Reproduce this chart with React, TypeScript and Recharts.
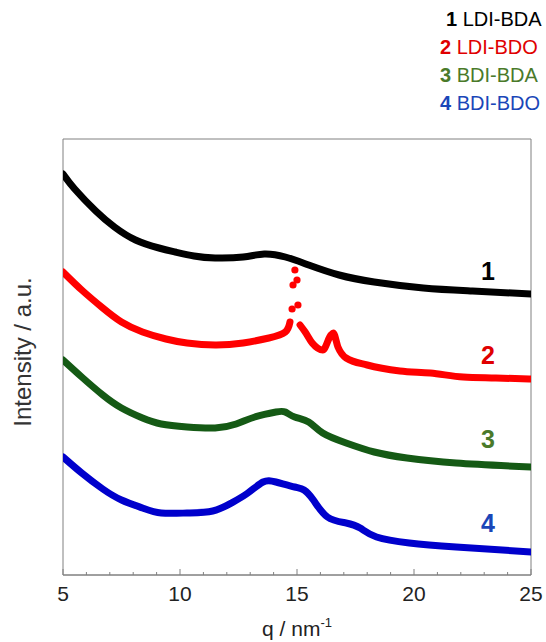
import React from "react"
import {
  ComposedChart,
  Line,
  Scatter,
  XAxis,
  YAxis,
  ReferenceArea,
} from "recharts"

// q in nm^-1, intensity in arbitrary units (offset curves)
const ldiBda = [
  { q: 5, v: 401 }, { q: 5.5, v: 386 }, { q: 6.4, v: 364 }, { q: 7.2, v: 348 },
  { q: 8.1, v: 335 }, { q: 9.1, v: 327 }, { q: 9.8, v: 323 }, { q: 10.6, v: 319 },
  { q: 11.5, v: 317 }, { q: 12.7, v: 318 }, { q: 13.6, v: 321 }, { q: 14.5, v: 318 },
  { q: 15.5, v: 310 }, { q: 16.8, v: 300 }, { q: 18.3, v: 293 }, { q: 20.4, v: 287 },
  { q: 22.5, v: 284 }, { q: 25, v: 281 },
]

const ldiBdoLow = [
  { q: 5, v: 303 }, { q: 5.8, v: 285 }, { q: 6.7, v: 267 }, { q: 7.5, v: 253 },
  { q: 8.4, v: 243 }, { q: 9.4, v: 236 }, { q: 10.3, v: 232 }, { q: 11.5, v: 230 },
  { q: 12.7, v: 232 }, { q: 13.8, v: 237 }, { q: 14.5, v: 243 }, { q: 14.7, v: 253 },
]

// sharp reflection, only a few sparse points
const ldiBdoPeak = [
  { q: 14.79, v: 266 }, { q: 14.83, v: 290 }, { q: 14.91, v: 305 },
  { q: 15.0, v: 295 }, { q: 15.04, v: 270 },
]

const ldiBdoHigh = [
  { q: 15.13, v: 250 }, { q: 15.35, v: 243 }, { q: 15.65, v: 232 }, { q: 16.1, v: 225 },
  { q: 16.45, v: 240 }, { q: 16.55, v: 242 }, { q: 16.75, v: 228 }, { q: 17.1, v: 217 },
  { q: 18.0, v: 210 }, { q: 19.4, v: 204 }, { q: 20.7, v: 202 }, { q: 22.1, v: 198 },
  { q: 23.5, v: 197 }, { q: 25, v: 196 },
]

const bdiBda = [
  { q: 5, v: 215 }, { q: 5.8, v: 198 }, { q: 6.7, v: 180 }, { q: 7.5, v: 167 },
  { q: 8.4, v: 157 }, { q: 9.2, v: 151 }, { q: 10.3, v: 148 }, { q: 11.5, v: 147 },
  { q: 12.4, v: 151 }, { q: 13.2, v: 158 }, { q: 14.1, v: 163 }, { q: 14.5, v: 163 },
  { q: 14.9, v: 158 }, { q: 15.5, v: 153 }, { q: 16.1, v: 142 }, { q: 17.1, v: 132 },
  { q: 18.3, v: 123 }, { q: 19.7, v: 117 }, { q: 21.8, v: 112 }, { q: 25, v: 108 },
]

const bdiBdo = [
  { q: 5, v: 118 }, { q: 5.8, v: 102 }, { q: 6.7, v: 86 }, { q: 7.5, v: 75 },
  { q: 8.4, v: 67 }, { q: 9.2, v: 62 }, { q: 10.3, v: 62 }, { q: 11.4, v: 64 },
  { q: 12.2, v: 72 }, { q: 12.9, v: 82 }, { q: 13.55, v: 93 }, { q: 14.1, v: 93 },
  { q: 14.9, v: 88 }, { q: 15.3, v: 85 }, { q: 15.7, v: 75 }, { q: 16.3, v: 58 },
  { q: 17.1, v: 52 }, { q: 17.7, v: 47 }, { q: 18.4, v: 38 }, { q: 19.8, v: 32 },
  { q: 21.8, v: 28 }, { q: 25, v: 23 },
]

const qTicks = [5, 6, 7, 8, 9, 10, 11, 12, 13, 14, 15, 16, 17, 18, 19, 20, 21, 22, 23, 24, 25]

const legendItems = [
  { num: "1", name: "LDI-BDA", color: "#000000" },
  { num: "2", name: "LDI-BDO", color: "#e00000" },
  { num: "3", name: "BDI-BDA", color: "#4a7a2a" },
  { num: "4", name: "BDI-BDO", color: "#1a46b8" },
]

const FONT = "'Liberation Sans', Arial, sans-serif"
const FRAME = "#808080"

const QTick = (props: any) => {
  const { x, y, payload } = props
  const major = payload.value % 5 === 0
  return (
    <g>
      <line x1={x} x2={x} y1={y} y2={y - (major ? 6 : 3)} stroke={FRAME} />
      {major && (
        <text x={x} y={y + 26} textAnchor="middle" fontSize={21} fill="#222" fontFamily={FONT}>
          {payload.value}
        </text>
      )}
    </g>
  )
}

const lineProps = {
  type: "natural" as const,
  dataKey: "v",
  strokeWidth: 7,
  strokeLinecap: "round" as const,
  strokeLinejoin: "round" as const,
  dot: false,
  activeDot: false,
  isAnimationActive: false,
}

export default function App() {
  return (
    <div style={{ position: "absolute", left: 0, top: 0, width: 546, height: 642, background: "#fff" }}>
      <ComposedChart
        width={546}
        height={642}
        margin={{ top: 139, right: 15, left: 63, bottom: 37 }}
      >
        <XAxis
          type="number"
          dataKey="q"
          domain={[5, 25]}
          ticks={qTicks}
          interval={0}
          tickSize={0}
          tickMargin={0}
          tickLine={false}
          axisLine={{ stroke: FRAME }}
          tick={<QTick />}
          height={30}
          allowDataOverflow
        />
        <YAxis type="number" dataKey="v" domain={[0, 436]} hide allowDataOverflow />
        <ReferenceArea x1={5} x2={25} y1={0} y2={436} fill="none" stroke={FRAME} strokeWidth={1} />
        <Line {...lineProps} data={ldiBda} stroke="#000000" />
        <Line {...lineProps} data={ldiBdoLow} stroke="#ff0000" />
        <Line {...lineProps} type="monotone" data={ldiBdoHigh} stroke="#ff0000" />
        <Scatter
          data={ldiBdoPeak}
          dataKey="v"
          isAnimationActive={false}
          shape={(p: any) => <circle cx={p.cx} cy={p.cy} r={3.6} fill="#ff0000" />}
        />
        <Line {...lineProps} data={bdiBda} stroke="#155a15" />
        <Line {...lineProps} data={bdiBdo} stroke="#0000cc" />
      </ComposedChart>

      <svg
        width={546}
        height={642}
        style={{ position: "absolute", left: 0, top: 0, pointerEvents: "none" }}
        fontFamily={FONT}
      >
        {/* legend */}
        {legendItems.map((it, i) => (
          <text key={it.num} x={i === 0 ? 446 : 440} y={26 + i * 28} fontSize={20} fill={it.color}>
            <tspan fontWeight="bold">{it.num}</tspan> {it.name}
          </text>
        ))}

        {/* curve numbers */}
        {legendItems.map((it, i) => (
          <text key={"n" + it.num} x={488} y={280 + i * 84} textAnchor="middle" fontSize={25} fontWeight="bold" fill={it.color}>
            {it.num}
          </text>
        ))}

        {/* axis titles */}
        <text x={297} y={636} textAnchor="middle" fontSize={21} fill="#222">
          q / nm<tspan dy={-9} fontSize={13}>-1</tspan>
        </text>
        <text
          x={0}
          y={0}
          transform="translate(31 352) rotate(-90)"
          textAnchor="middle"
          fontSize={24}
          fill="#333"
        >
          Intensity / a.u.
        </text>
      </svg>
    </div>
  )
}
